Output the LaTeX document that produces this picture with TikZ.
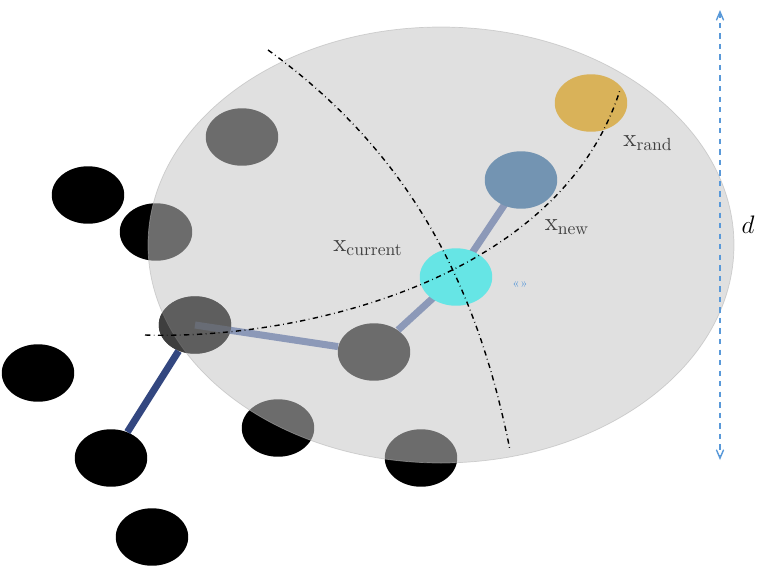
\documentclass[tikz,border=0pt]{standalone}
\usetikzlibrary{arrows,shapes,positioning,calc}
\definecolor{cyanpt}{rgb}{0.4,0.9,0.9}
\definecolor{newpt}{rgb}{0.45,0.58,0.7}
\definecolor{randpt}{rgb}{0.85,0.7,0.35}
\definecolor{branche}{rgb}{0.55,0.6,0.72}
\definecolor{tronc}{rgb}{0.2,0.28,0.5}
\definecolor{fleche}{rgb}{0.35,0.6,0.85}
\tikzset{
  pt/.style={ellipse,minimum width=1.45cm,minimum height=1.15cm,inner sep=0pt},
  noir/.style={pt,fill=black},
  gris/.style={pt,fill=gray!85!black},
  lbl/.style={text=gray!50!black,font=\Large}
}
\begin{document}
\begin{tikzpicture}[x=0.02cm,y=-0.02cm]
\useasboundingbox (0,0) rectangle (765,575);
% noeuds hors zone
\node[noir] (N1) at (88,195) {};
\node[noir] (N2) at (38,373) {};
\node[noir] (N3) at (111,458) {};
\node[noir] (N4) at (152,537) {};
\node[noir] (N5) at (156,232) {};
\node[noir] (N6) at (195,325) {};
\node[noir] (N7) at (278,428) {};
\node[noir] (N8) at (421,458) {};
\draw[line width=4pt,tronc] (N3) -- (N6);
% zone de rayon d
\fill[gray!45,opacity=0.55,draw=gray!60] (441,245) ellipse [x radius=293,y radius=218];
% arbre
\node[gris] (G1) at (242,137) {};
\node[gris] (G2) at (374,352) {};
\draw[line width=4pt,branche] (N6.center) -- (G2);
\draw[line width=4pt,branche] (G2) -- (456,277) -- (521,180);
\node[gris,fill=gray!70!black,opacity=0.7] at (N6) {};
\node[pt,fill=cyanpt] (XC) at (456,277) {};
\node[pt,fill=newpt] (XN) at (521,180) {};
\node[pt,fill=randpt] (XR) at (591,103) {};
% arcs
\draw[dash dot,thick] (268,50) .. controls (420,160) and (480,300) .. (510,450);
\draw[dash dot,thick] (145,335) .. controls (300,340) and (560,280) .. (620,90);
% etiquettes
\node[lbl] (LC) at (368,248) {x$_{\mathrm{current}}$};
\node[lbl] (LN) at (567,227) {x$_{\mathrm{new}}$};
\node[lbl] (LR) at (648,143) {x$_{\mathrm{rand}}$};
\node[text=fleche,font=\scriptsize] (LQ) at (520,285) {«»};
% rayon
\coordinate (H) at (720,10);
\coordinate (B) at (720,460);
\draw[dashed,fleche,thick,<->,>=angle 45] (H) -- (B);
\node[font=\Large] (D) at (748,225) {$d$};
\end{tikzpicture}
\end{document}
